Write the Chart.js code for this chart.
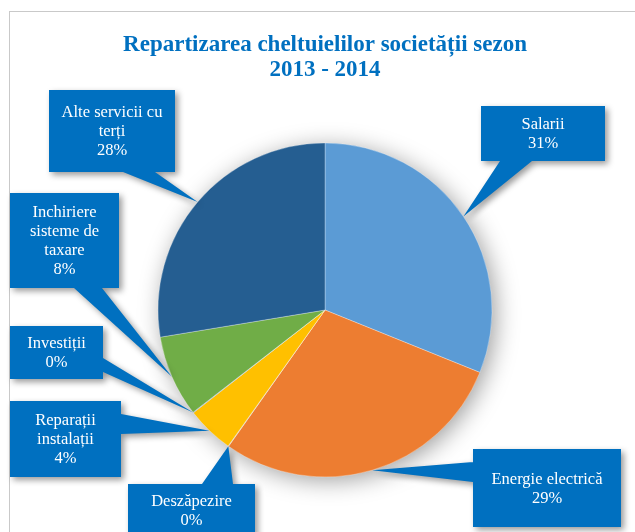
<!DOCTYPE html>
<html><head><meta charset="utf-8">
<script src="https://cdn.jsdelivr.net/npm/chart.js@4"></script>
<style>
html,body{margin:0;padding:0;background:#fff;overflow:hidden;}
#wrap{position:relative;width:635px;height:532px;overflow:hidden;}
#frame{position:absolute;left:9px;top:11px;width:700px;height:600px;border:1px solid #C9C9C9;box-sizing:border-box;}
canvas{position:absolute;left:0;top:0;}
</style></head><body>
<div id="wrap"><div id="frame"></div><canvas id="c" width="635" height="532"></canvas></div>
<script>
const titleLines = ['Repartizarea cheltuielilor societății sezon', '2013 - 2014'];
const categories = ['Salarii', 'Energie electrică', 'Deszăpezire', 'Reparații instalații', 'Investiții', 'Inchiriere sisteme de taxare', 'Alte servicii cu terți'];
const values = [31.1, 28.7, 0.05, 4.6, 0.05, 7.9, 27.6];
const percentLabels = ['31%', '29%', '0%', '4%', '0%', '8%', '28%'];
const labelLines = [['Salarii'], ['Energie electrică'], ['Deszăpezire'], ['Reparații', 'instalații'], ['Investiții'], ['Inchiriere', 'sisteme de', 'taxare'], ['Alte servicii cu', 'terți']];

const sliceColors = ['#5B9BD5', '#ED7D31', '#A5A5A5', '#FFC000', '#4472C4', '#70AD47', '#255E91'];
const calloutBoxes = [
  {x:481, y:106, w:124, h:55, base:[[500,161],[532,161]]},
  {x:473, y:449, w:148, h:78, base:[[473,462],[473,482]]},
  {x:128, y:484, w:127, h:52, base:[[202,484],[233,484]]},
  {x:10,  y:401, w:111, h:76, base:[[121,414],[121,434]]},
  {x:10,  y:326, w:93,  h:53, base:[[103,358],[103,372]]},
  {x:10,  y:193, w:109, h:95, base:[[74,288],[102,288]]},
  {x:49,  y:90,  w:126, h:82, base:[[123,172],[155,172]]}
];

const pieShadow = {
  id: 'pieShadow',
  beforeDatasetsDraw(chart) {
    const el = chart.getDatasetMeta(0).data[0];
    if (!el) return;
    const ctx = chart.ctx;
    ctx.save();
    ctx.shadowColor = 'rgba(0,0,0,0.4)';
    ctx.shadowBlur = 24;
    ctx.shadowOffsetX = 4;
    ctx.shadowOffsetY = 4;
    ctx.fillStyle = '#ffffff';
    ctx.beginPath();
    ctx.arc(el.x, el.y, el.outerRadius - 1, 0, Math.PI * 2);
    ctx.fill();
    ctx.restore();
  }
};

const callouts = {
  id: 'callouts',
  afterDatasetsDraw(chart) {
    const ctx = chart.ctx;
    const meta = chart.getDatasetMeta(0);
    meta.data.forEach((el, i) => {
      const b = calloutBoxes[i];
      const mid = (el.startAngle + el.endAngle) / 2;
      const tx = el.x + Math.cos(mid) * el.outerRadius;
      const ty = el.y + Math.sin(mid) * el.outerRadius;
      ctx.save();
      ctx.shadowColor = 'rgba(0,0,0,0.4)';
      ctx.shadowBlur = 6;
      ctx.shadowOffsetX = 3;
      ctx.shadowOffsetY = 3;
      ctx.fillStyle = '#0070C0';
      ctx.beginPath();
      ctx.rect(b.x, b.y, b.w, b.h);
      ctx.moveTo(b.base[0][0], b.base[0][1]);
      ctx.lineTo(tx, ty);
      ctx.lineTo(b.base[1][0], b.base[1][1]);
      ctx.closePath();
      ctx.fill();
      ctx.restore();
    });
    meta.data.forEach((el, i) => {
      const b = calloutBoxes[i];
      const lines = labelLines[i].concat([percentLabels[i]]);
      const lh = 19;
      const cx = b.x + b.w / 2;
      const cy = b.y + b.h / 2 + 1;
      ctx.save();
      ctx.fillStyle = '#ffffff';
      ctx.font = '16.5px "Liberation Serif"';
      ctx.textAlign = 'center';
      ctx.textBaseline = 'middle';
      lines.forEach((t, k) => {
        ctx.fillText(t, cx, cy - (lines.length - 1) * lh / 2 + k * lh);
      });
      ctx.restore();
    });
  }
};

new Chart(document.getElementById('c'), {
  type: 'pie',
  data: {
    labels: categories,
    datasets: [{
      data: values,
      backgroundColor: sliceColors,
      borderColor: '#ffffff',
      borderWidth: 0.3,
      radius: 167
    }]
  },
  options: {
    responsive: false,
    animation: false,
    layout: { padding: { left: 15, right: 0, top: 0, bottom: 0 } },
    plugins: {
      legend: { display: false },
      tooltip: { enabled: false },
      title: {
        display: true,
        text: titleLines,
        color: '#0070C0',
        font: { family: '"Liberation Serif"', size: 23, weight: 'bold', lineHeight: 1.087 },
        padding: { top: 33, bottom: 5 }
      }
    }
  },
  plugins: [pieShadow, callouts]
});
</script>
</body></html>
